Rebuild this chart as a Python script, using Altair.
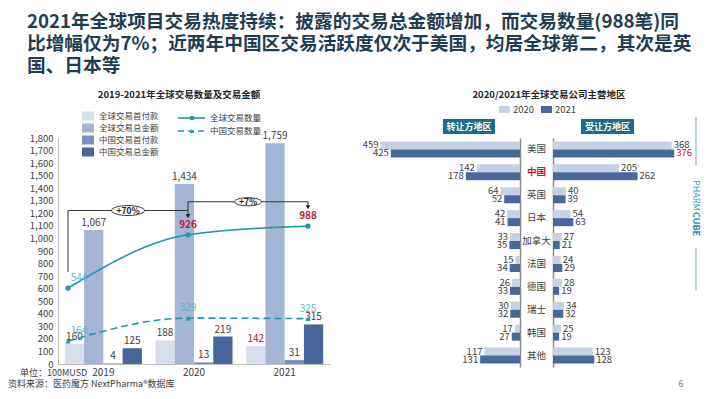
import altair as alt
import pandas as pd

FONT = "Noto Sans CJK SC"
DARK = "#404040"
RED = "#C0143C"
TEAL = "#1E99A9"
LTEAL = "#5DB3D0"
TITLE_C = "#1F3D52"

# ---------------- data ----------------
years = ["2019", "2020", "2021"]
bar_series = ["全球交易首付款", "全球交易总金额", "中国交易首付款", "中国交易总金额"]
bar_colors = ["#D7DFEC", "#A5B6D4", "#7390C2", "#46669C"]
global_upfront = [160, 188, 142]
global_total = [1067, 1434, 1759]
china_upfront = [4, 13, 31]
china_total = [125, 219, 315]

line_series = ["全球交易数量", "中国交易数量"]
global_deals = [544, 926, 988]
china_deals = [164, 329, 325]

regions = ["美国", "中国", "英国", "日本", "加拿大", "法国", "德国", "瑞士", "韩国", "其他"]
region_years = ["2020", "2021"]
region_colors = ["#C6D1E4", "#48679B"]
licensor_2020 = [459, 142, 64, 42, 33, 15, 26, 30, 17, 117]
licensor_2021 = [425, 178, 52, 41, 35, 34, 33, 32, 27, 131]
licensee_2020 = [368, 205, 40, 54, 27, 24, 28, 34, 25, 123]
licensee_2021 = [376, 262, 39, 63, 21, 29, 19, 32, 19, 128]

growth_labels = ["+70%", "+7%"]

title_lines = [
    "2021年全球项目交易热度持续：披露的交易总金额增加，而交易数量(988笔)同",
    "比增幅仅为7%；近两年中国区交易活跃度仅次于美国，均居全球第二，其次是英",
    "国、日本等",
]

# ---------------- tables ----------------
bar_df = pd.DataFrame([
    {"year": y, "series": s, "value": v}
    for s, vals in zip(bar_series, [global_upfront, global_total, china_upfront, china_total])
    for y, v in zip(years, vals)
])
line_df = pd.DataFrame([
    {"year": y, "idx": i, "series": s, "count": v}
    for s, vals in zip(line_series, [global_deals, china_deals])
    for i, (y, v) in enumerate(zip(years, vals))
])
reg_rows = []
for side, v20, v21 in [("out", licensor_2020, licensor_2021), ("in", licensee_2020, licensee_2021)]:
    for r, a, b in zip(regions, v20, v21):
        reg_rows.append({"side": side, "region": r, "year": "2020", "value": a})
        reg_rows.append({"side": side, "region": r, "year": "2021", "value": b})
reg_df = pd.DataFrame(reg_rows)

# growth bracket annotation, in (year index, deal count) units
seg_df = pd.DataFrame({
    "x": [0, 0, 1, 1, 1, 2],
    "x2": [0, 1, 1, 1, 2, 2],
    "y": [660, 1100, 1100, 1163, 1163, 1163],
    "y2": [1100, 1100, 1065, 1100, 1163, 1128],
})
arrow_df = pd.DataFrame({"x": [1, 2], "y": [1060, 1124]})
ell_df = pd.DataFrame({"x": [0.5, 1.5], "y": [1100, 1163], "label": growth_labels})

W, H = 694, 383


def px_text(text, x, y, size=10, color=DARK, weight="normal", align="left", angle=0):
    return alt.Chart(pd.DataFrame({"t": [text]})).mark_text(
        font=FONT, fontSize=size, color=color, fontWeight=weight, align=align,
        baseline="middle", angle=angle,
    ).encode(x=alt.value(x), y=alt.value(y), text="t:N")


def px_rule(x1, y1, x2, y2, color, width=1.0, dash=None):
    kw = dict(color=color, strokeWidth=width)
    if dash:
        kw["strokeDash"] = dash
    return alt.Chart(pd.DataFrame({"a": [0]})).mark_rule(**kw).encode(
        x=alt.value(x1), y=alt.value(y1), x2=alt.value(x2), y2=alt.value(y2))


def px_rect(x1, y1, x2, y2, color):
    return alt.Chart(pd.DataFrame({"a": [0]})).mark_rect(color=color).encode(
        x=alt.value(x1), y=alt.value(y1), x2=alt.value(x2), y2=alt.value(y2))


# ---------------- left: bars ----------------
x_year = alt.X("year:N", sort=years,
               scale=alt.Scale(range=[50, 322], paddingInner=0.15, paddingOuter=0.075),
               axis=alt.Axis(title=None, orient="bottom", offset=-27, labelAngle=0, ticks=False,
                             domainColor="#BFBFBF", labelFontSize=10, labelColor=DARK, labelPadding=3))
x_off = alt.XOffset("series:N", sort=bar_series, scale=alt.Scale(paddingInner=0, paddingOuter=0))
y_amt = alt.Y("value:Q", scale=alt.Scale(domain=[0, 1800], range=[356, 130], nice=False),
              axis=alt.Axis(title=None, orient="left", offset=-50, values=list(range(0, 1801, 100)),
                            format=",.0f", grid=False, ticks=False, domainColor="#BFBFBF",
                            labelFontSize=9.5, labelColor=DARK, labelPadding=5))
bars = alt.Chart(bar_df).mark_bar().encode(
    x=x_year, xOffset=x_off, y=y_amt,
    color=alt.Color("series:N", sort=bar_series,
                    scale=alt.Scale(domain=bar_series, range=bar_colors),
                    legend=alt.Legend(title=None, orient="none", legendX=74, legendY=102, padding=0,
                                      symbolType="M-1,-0.75H1V0.75H-1Z", symbolSize=144,
                                      symbolStrokeWidth=0, labelFontSize=8.5, labelColor=DARK,
                                      labelOffset=5, rowPadding=1)),
)
bar_labels = alt.Chart(bar_df).mark_text(dy=-7, fontSize=10, font=FONT).encode(
    x=x_year, xOffset=x_off, y=y_amt,
    text=alt.Text("value:Q", format=","),
    color=alt.condition("datum.year == '2021' && datum.series == '全球交易首付款'",
                        alt.value(RED), alt.value(DARK)),
)
left_bars = alt.layer(bars, bar_labels)

# ---------------- left: deal count lines ----------------
x_sc = alt.Scale(domain=[0, 2], range=[60, 300], nice=False, zero=False)
y_sc = alt.Scale(domain=[0, 1620], range=[356, 130], nice=False)
x_idx = alt.X("idx:Q", scale=x_sc, axis=None)
y_cnt = alt.Y("count:Q", scale=y_sc, axis=None)

line = alt.Chart(line_df).mark_line(interpolate="monotone", strokeWidth=1.6, color=TEAL).encode(
    x=x_idx, y=y_cnt,
    strokeDash=alt.StrokeDash("series:N", sort=line_series,
                              scale=alt.Scale(domain=line_series, range=[[1, 0], [7, 4]]), legend=None),
)
pts = alt.Chart(line_df).mark_point(filled=True, size=28, color=TEAL, opacity=1).encode(
    x=x_idx, y=y_cnt,
    shape=alt.Shape("series:N", sort=line_series,
                    scale=alt.Scale(domain=line_series, range=["circle", "triangle-up"]), legend=None),
)
lab_first = alt.Chart(line_df).transform_filter("datum.idx == 0").mark_text(
    dx=11, dy=-10, fontSize=10, font=FONT, color=LTEAL).encode(x=x_idx, y=y_cnt, text="count:Q")
lab_cn = alt.Chart(line_df).transform_filter("datum.idx > 0 && datum.series == '中国交易数量'").mark_text(
    dy=-10, fontSize=10, font=FONT, color=LTEAL).encode(x=x_idx, y=y_cnt, text="count:Q")
lab_gl = alt.Chart(line_df).transform_filter("datum.idx > 0 && datum.series == '全球交易数量'").mark_text(
    dy=-10, fontSize=10, font=FONT, color=RED, fontWeight="bold").encode(x=x_idx, y=y_cnt, text="count:Q")

segs = alt.Chart(seg_df).mark_rule(color="#333333", strokeWidth=1).encode(
    x=alt.X("x:Q", scale=x_sc, axis=None), x2="x2:Q",
    y=alt.Y("y:Q", scale=y_sc, axis=None), y2="y2:Q")
arrows = alt.Chart(arrow_df).mark_point(shape="triangle-down", filled=True, size=22, color="#222222", opacity=1).encode(
    x=alt.X("x:Q", scale=x_sc, axis=None), y=alt.Y("y:Q", scale=y_sc, axis=None))
ellipses = alt.Chart(ell_df).mark_point(
    shape="M-1,0A1,0.3 0 1,1 1,0A1,0.3 0 1,1 -1,0Z", fill="white", stroke="#333333",
    strokeWidth=1, filled=False, opacity=1, fillOpacity=1).encode(
    x=alt.X("x:Q", scale=x_sc, axis=None), y=alt.Y("y:Q", scale=y_sc, axis=None),
    size=alt.condition("datum.label == '+70%'", alt.value(1089), alt.value(729)))
ell_text = alt.Chart(ell_df).mark_text(fontSize=8.5, font=FONT, fontWeight="bold", color="#222222").encode(
    x=alt.X("x:Q", scale=x_sc, axis=None), y=alt.Y("y:Q", scale=y_sc, axis=None), text="label:N")

lines_layer = alt.layer(line, pts, lab_first, lab_cn, lab_gl, segs, arrows, ellipses, ell_text)

# ---------------- right: regions ----------------
cn_test = "datum.value === '中国'"
y_out = alt.Y("region:N", sort=regions,
              scale=alt.Scale(domain=regions, range=[130, 359], paddingInner=0.3, paddingOuter=0.15),
              axis=alt.Axis(orient="right", offset=-182, title=None, ticks=False, domainColor="#8C8C8C",
                            domainWidth=1.5, labelAlign="center", labelPadding=16, labelFontSize=9.5,
                            labelColor={"condition": {"test": cn_test, "value": RED}, "value": DARK},
                            labelFontWeight={"condition": {"test": cn_test, "value": "bold"}, "value": "normal"}))
y_in = alt.Y("region:N", sort=regions,
             scale=alt.Scale(domain=regions, range=[130, 359], paddingInner=0.3, paddingOuter=0.15),
             axis=alt.Axis(orient="left", offset=-545, title=None, ticks=False, labels=False,
                           domainColor="#8C8C8C", domainWidth=1.5))
y_off = alt.YOffset("year:N", sort=region_years, scale=alt.Scale(paddingInner=0, paddingOuter=0))
x_out = alt.X("value:Q", scale=alt.Scale(domain=[0, 500], range=[512, 360], nice=False), axis=None)
x_in = alt.X("value:Q", scale=alt.Scale(domain=[0, 400], range=[545, 674], nice=False), axis=None)
reg_legend = alt.Legend(title=None, orient="none", direction="horizontal", legendX=491, legendY=96,
                        padding=0, symbolType="M-1,-0.64H1V0.64H-1Z", symbolSize=121,
                        symbolStrokeWidth=0, labelFontSize=9.5, labelColor=DARK, labelOffset=3,
                        columnPadding=6)
reg_color = alt.Color("year:N", sort=region_years,
                      scale=alt.Scale(domain=region_years, range=region_colors), legend=reg_legend)

out_df = alt.Chart(reg_df).transform_filter("datum.side == 'out'")
in_df = alt.Chart(reg_df).transform_filter("datum.side == 'in'")
out_layer = alt.layer(
    out_df.mark_bar().encode(y=y_out, yOffset=y_off, x=x_out, color=reg_color),
    out_df.mark_text(align="right", dx=-2, fontSize=9.5, font=FONT, color=DARK).encode(
        y=y_out, yOffset=y_off, x=x_out, text="value:Q"),
)
in_layer = alt.layer(
    in_df.mark_bar().encode(y=y_in, yOffset=y_off, x=x_in, color=reg_color),
    in_df.mark_text(align="left", dx=2, fontSize=9.5, font=FONT).encode(
        y=y_in, yOffset=y_off, x=x_in, text="value:Q",
        color=alt.condition("datum.region == '美国' && datum.year == '2021'", alt.value(RED), alt.value(DARK))),
)
regions_layer = alt.layer(out_layer, in_layer).resolve_scale(x="independent", y="independent")

# ---------------- decorations ----------------
decor = [
    px_text(title_lines[0], 19, 14, size=18.7, color=TITLE_C, weight="bold"),
    px_text(title_lines[1], 19, 36, size=18.7, color=TITLE_C, weight="bold"),
    px_text(title_lines[2], 19, 58, size=18.7, color=TITLE_C, weight="bold"),
    px_text("2019-2021年全球交易数量及交易金额", 171, 87, size=9.5, color="#262626", weight="bold", align="center"),
    px_text("2020/2021年全球交易公司主营地区", 541, 87, size=9.5, color="#262626", weight="bold", align="center"),
    px_text("单位：100MUSD", 12, 365, size=9, color=DARK),
    px_text("资料来源：医药魔方 NextPharma®数据库", 0, 376, size=9, color=DARK),
    px_text("6", 673, 376, size=9, color="#7F7F7F", align="center"),
    # line legend
    px_rule(170, 110, 197, 110, TEAL, 1.6),
    px_rule(170, 123, 197, 123, TEAL, 1.6, dash=[6, 4]),
    px_text("全球交易数量", 202, 110, size=8.5, color=DARK),
    px_text("中国交易数量", 202, 123, size=8.5, color=DARK),
    # header boxes
    px_rect(435, 111, 487, 126, "#1A6D8D"),
    px_rect(573, 111, 626, 126, "#1A6D8D"),
    px_text("转让方地区", 461, 118.5, size=9, color="white", weight="bold", align="center"),
    px_text("受让方地区", 599.5, 118.5, size=9, color="white", weight="bold", align="center"),
    # brand mark
    px_rule(688, 109, 688, 158, "#8DB5C2", 1.2),
    px_rule(688, 240, 688, 282, "#8DB5C2", 1.2),
    px_text("PHARM", 688, 172, size=9, color="#3FA3C0", angle=90),
    px_text("CUBE", 688, 204, size=9, color="#2A8CB0", weight="bold", angle=90),
]
legend_pts = [
    alt.Chart(pd.DataFrame({"a": [0]})).mark_point(shape="circle", filled=True, size=22, color=TEAL, opacity=1)
    .encode(x=alt.value(184), y=alt.value(110)),
    alt.Chart(pd.DataFrame({"a": [0]})).mark_point(shape="triangle-up", filled=True, size=22, color=TEAL, opacity=1)
    .encode(x=alt.value(184), y=alt.value(123)),
]

chart = alt.layer(
    left_bars, lines_layer, regions_layer, *decor, *legend_pts
).resolve_scale(
    x="independent", y="independent", color="independent", shape="independent", strokeDash="independent"
).resolve_legend(color="independent").properties(
    width=W, height=H, autosize=alt.AutoSizeParams(type="none"), padding=0, background="white"
).configure(font=FONT).configure_view(stroke=None)

chart.save("out.html", embed_options={"renderer": "svg", "actions": False})
